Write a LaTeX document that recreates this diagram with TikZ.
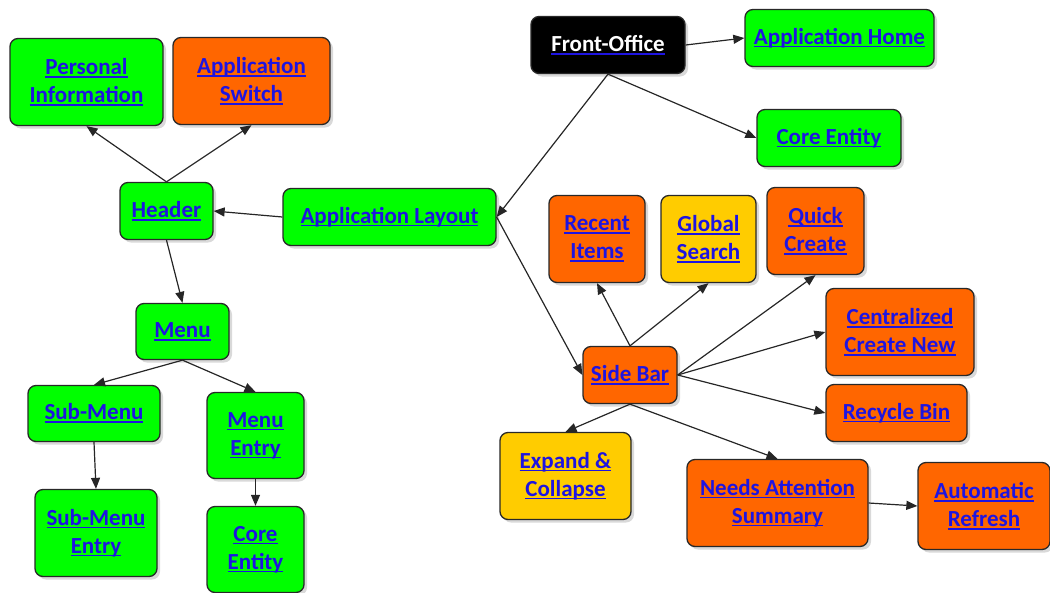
\documentclass[tikz,border=0pt]{standalone}
\usepackage{fontspec}
\setmainfont{Carlito}
\usetikzlibrary{arrows.meta,shadows}
\definecolor{gr}{RGB}{0,255,0}
\definecolor{og}{RGB}{255,102,0}
\definecolor{yl}{RGB}{255,204,0}
\definecolor{lk}{RGB}{30,20,225}
\definecolor{bd}{RGB}{40,40,40}
\newcommand\LK[1]{\textcolor{lk}{\setbox0\hbox{#1}\rlap{\rule[-3.2pt]{\wd0}{1.7pt}}\box0}}
\newcommand\WK[1]{\textcolor{lk}{\setbox0\hbox{\textcolor{white}{#1}}\rlap{\rule[-3.2pt]{\wd0}{1.7pt}}\box0}}
\tikzset{
  box/.style={draw=bd, line width=1.3pt, rounded corners=8pt, align=center,
    inner sep=0pt, font=\fontsize{23}{28}\selectfont\bfseries,
    drop shadow={shadow xshift=3pt, shadow yshift=-3pt, opacity=0.3}},
  arr/.style={draw=black!85, line width=1.2pt, -{Triangle[length=11pt,width=9pt]}}
}
\begin{document}
\begin{tikzpicture}[x=1pt,y=-1pt]
\useasboundingbox (0,0) rectangle (1050,592);
% left group
\node[box,fill=gr,minimum width=153,minimum height=87] (pi) at (86.5,82) {\LK{Personal}\\\LK{Information}};
\node[box,fill=og,minimum width=157,minimum height=87] (as) at (251.5,81) {\LK{Application}\\\LK{Switch}};
\node[box,fill=gr,minimum width=93,minimum height=57] (hdr) at (166.5,211) {\LK{Header}};
\node[box,fill=gr,minimum width=213,minimum height=57] (al) at (389.5,217) {\LK{Application Layout}};
\node[box,fill=gr,minimum width=93,minimum height=56] (menu) at (182.5,331.5) {\LK{Menu}};
\node[box,fill=gr,minimum width=132,minimum height=56] (sm) at (94,413.5) {\LK{Sub-Menu}};
\node[box,fill=gr,minimum width=97,minimum height=86] (me) at (255.5,435.5) {\LK{Menu}\\\LK{Entry}};
\node[box,fill=gr,minimum width=122,minimum height=87] (sme) at (96,533) {\LK{Sub-Menu}\\\LK{Entry}};
\node[box,fill=gr,minimum width=97,minimum height=86] (ce2) at (255.5,549.5) {\LK{Core}\\\LK{Entity}};
% top right
\node[box,fill=black,minimum width=154,minimum height=57] (fo) at (608,45) {\WK{Front-Office}};
\node[box,fill=gr,minimum width=189,minimum height=57] (ah) at (839.5,38) {\LK{Application Home}};
\node[box,fill=gr,minimum width=144,minimum height=57] (ce1) at (829,138) {\LK{Core Entity}};
% side bar group
\node[box,fill=og,minimum width=96,minimum height=87] (ri) at (597,239) {\LK{Recent}\\\LK{Items}};
\node[box,fill=yl,minimum width=95,minimum height=87] (gs) at (708.5,239) {\LK{Global}\\\LK{Search}};
\node[box,fill=og,minimum width=97,minimum height=87] (qc) at (815.5,231) {\LK{Quick}\\\LK{Create}};
\node[box,fill=og,minimum width=148,minimum height=87] (cc) at (900,332) {\LK{Centralized}\\\LK{Create New}};
\node[box,fill=og,minimum width=94,minimum height=57] (sb) at (630,375) {\LK{Side Bar}};
\node[box,fill=og,minimum width=141,minimum height=57] (rb) at (896.5,413) {\LK{Recycle Bin}};
\node[box,fill=yl,minimum width=131,minimum height=87] (ec) at (565.5,476) {\LK{Expand \&}\\\LK{Collapse}};
\node[box,fill=og,minimum width=181,minimum height=87] (na) at (777.5,503) {\LK{Needs Attention}\\\LK{Summary}};
\node[box,fill=og,minimum width=132,minimum height=87] (ar) at (984,506) {\LK{Automatic}\\\LK{Refresh}};
% connectors
\draw[arr] (hdr.north) -- (pi.south);
\draw[arr] (hdr.north) -- (as.south);
\draw[arr] (al.west) -- (hdr.east);
\draw[arr] (hdr.south) -- (menu.north);
\draw[arr] (menu.south) -- (sm.north);
\draw[arr] (menu.south) -- (me.north);
\draw[arr] (sm.south) -- (sme.north);
\draw[arr] (me.south) -- (ce2.north);
\draw[arr] (fo.east) -- (ah.west);
\draw[arr] (fo.south) -- (ce1.west);
\draw[arr] (fo.south) -- (al.east);
\draw[arr] (al.east) -- (sb.west);
\draw[arr] (sb.north) -- (ri.south);
\draw[arr] (sb.north) -- (gs.south);
\draw[arr] (sb.east) -- (qc.south);
\draw[arr] (sb.east) -- (cc.west);
\draw[arr] (sb.east) -- (rb.west);
\draw[arr] (sb.south) -- (ec.north);
\draw[arr] (sb.south) -- (na.north);
\draw[arr] (na.east) -- (ar.west);
\end{tikzpicture}
\end{document}
